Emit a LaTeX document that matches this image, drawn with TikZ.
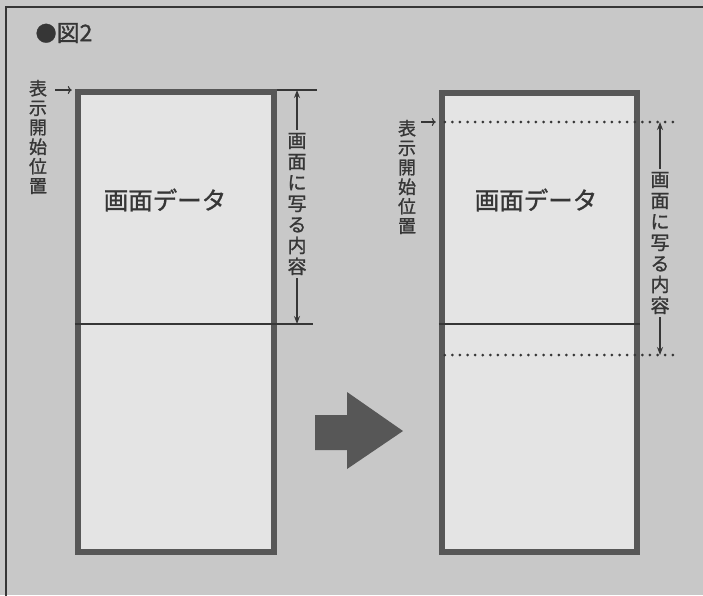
\documentclass[tikz,border=0pt]{standalone}
\usepackage{fontspec}
\newfontfamily\jpfont[FakeBold=1.2]{Noto Sans CJK JP}
\usetikzlibrary{arrows.meta,positioning,calc}
\definecolor{scrgray}{HTML}{575757}
\definecolor{scrfill}{HTML}{E4E4E4}
\definecolor{bggray}{HTML}{C8C8C8}
\definecolor{inkgray}{HTML}{363636}

\begin{document}
\begin{tikzpicture}[
  x=1pt, y=-1pt,
  screen/.style={draw=scrgray, line width=6.5pt, fill=scrfill, inner sep=0pt, minimum width=196pt, minimum height=460pt},
  datalabel/.style={text=inkgray, inner sep=0pt, font=\jpfont\fontsize{24.5}{24}\selectfont},
  startlabel/.style={text=inkgray, align=center, inner sep=0pt, font=\jpfont\fontsize{18}{19.5}\selectfont},
  dimlabel/.style={text=inkgray, align=center, inner sep=3pt, font=\jpfont\fontsize{19}{21}\selectfont},
  rule/.style={line width=1.4pt, draw=inkgray},
  dotrule/.style={line width=3pt, line cap=round, dash pattern=on 0pt off 7.6pt, draw=inkgray},
  dim/.style={-{Stealth[length=8pt,width=6pt]}, line width=1.3pt, draw=inkgray},
  pointer/.style={-{To[length=4pt,width=8pt]}, line width=1.2pt, draw=inkgray, shorten >=3pt}
]
\useasboundingbox (0,0) rectangle (703,595);
\fill[bggray] (0,0) rectangle (703,595);
\draw[line width=2.5pt, draw=inkgray] (6,600) -- (6,7) -- (710,7);
\node[text=inkgray, font=\jpfont\fontsize{23}{23}\selectfont] (ttl) at (64,33) {{\fontsize{21}{21}\selectfont ●}図2};

% before scrolling
\node[screen] (scrA) at (176,322) {};
\node[datalabel] (datA) at (165,200) {画面データ};
\coordinate (cutA) at (313,324);
\coordinate (topA) at (317,90);
\draw[rule] (scrA.west |- cutA) -- (cutA);
\draw[rule] (scrA.north east |- topA) -- (topA);
\node[dimlabel] (cntA) at (297,204) {画\\面\\に\\写\\る\\内\\容};
\draw[dim] (cntA.north) -- (cntA.north |- topA);
\draw[dim] (cntA.south) -- (cntA.south |- cutA);
\node[startlabel] (startA) at (38,137) {表\\示\\開\\始\\位\\置};
\draw[pointer] ([xshift=8pt]startA.east |- topA) -- (scrA.west |- topA);

% scroll
\fill[scrgray] (315,415) -- (347,415) -- (347,392) -- (403,431) -- (347,469) -- (347,450) -- (315,450) -- cycle;

% after scrolling
\node[screen, minimum width=195pt, minimum height=459pt] (scrB) at (539.5,322.5) {};
\node[datalabel] (datB) at (536,200) {画面データ};
\coordinate (cutB) at (540,324);
\coordinate (viewTopB) at (674,122);
\coordinate (viewBotB) at (676,355);
\draw[rule] (scrB.west |- cutB) -- (scrB.east |- cutB);
\draw[dotrule] ([xshift=6pt]scrB.west |- viewTopB) -- (viewTopB);
\draw[dotrule] ([xshift=6pt]scrB.west |- viewBotB) -- (viewBotB);
\node[dimlabel] (cntB) at (660,243) {画\\面\\に\\写\\る\\内\\容};
\draw[dim] (cntB.north) -- (cntB.north |- viewTopB);
\draw[dim] (cntB.south) -- (cntB.south |- viewBotB);
\node[startlabel] (startB) at (407,177) {表\\示\\開\\始\\位\\置};
\draw[pointer] ([xshift=5pt]startB.east |- viewTopB) -- (scrB.west |- viewTopB);
\end{tikzpicture}
\end{document}
